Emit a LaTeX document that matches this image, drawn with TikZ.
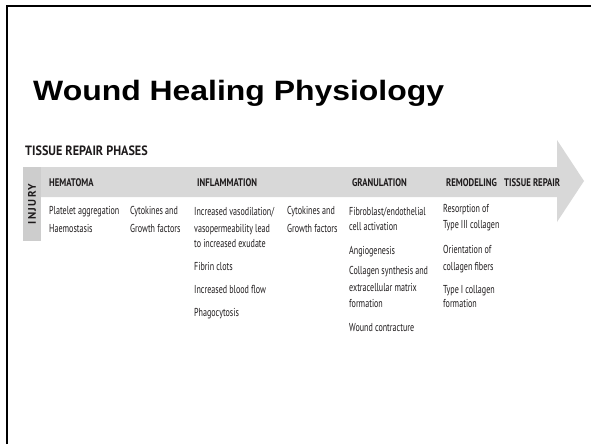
\documentclass[tikz,border=0pt]{standalone}
\usepackage{fontspec}
\setmainfont{Liberation Sans}
\newfontfamily\titlef[FakeStretch=1.14]{Liberation Sans}
\newfontfamily\bodyf[FakeStretch=0.70]{PT Sans}
\newfontfamily\headf[FakeStretch=0.79]{PT Sans}
\newfontfamily\phasef[FakeStretch=0.9]{PT Sans}
\newfontfamily\injf[LetterSpace=12]{PT Sans}
\definecolor{bandgray}{RGB}{216,216,216}
\definecolor{injgray}{RGB}{205,205,205}
\definecolor{ink}{RGB}{30,27,28}
\tikzset{
  bodytxt/.style={anchor=base west, inner sep=0pt, text=ink, font=\bodyf\fontsize{11.5}{13}\selectfont},
  headtxt/.style={anchor=base west, inner sep=0pt, text=ink, font=\headf\bfseries\fontsize{11}{12}\selectfont},
}
\begin{document}
\begin{tikzpicture}[x=1pt,y=-1pt]
\useasboundingbox (0,0) rectangle (591,444);
% frame
\draw[line width=2pt] (7,444) -- (7,6) -- (591,6);
% title
\node[anchor=base west, inner sep=0pt, font=\titlef\bfseries\fontsize{28}{30}\selectfont] (title) at (33,100) {Wound Healing Physiology};
\node[anchor=base west, inner sep=0pt, text=ink, font=\phasef\bfseries\fontsize{13.5}{15}\selectfont] (phases) at (25,155.5) {TISSUE REPAIR PHASES};
% arrow band
\fill[bandgray] (23,167) -- (557,167) -- (557,140) -- (584,181) -- (557,222) -- (557,197) -- (23,197) -- cycle;
\fill[injgray] (23,167) rectangle (41,241);
\node[rotate=90, inner sep=0pt, text=ink, font=\injf\bfseries\fontsize{11}{12}\selectfont] (injury) at (32,204) {INJURY};
% headers
\node[headtxt] (hem) at (49,186) {HEMATOMA};
\node[headtxt] (infl) at (197,186) {INFLAMMATION};
\node[headtxt] (gran) at (352,186) {GRANULATION};
\node[headtxt] (remo) at (446,186) {REMODELING};
\node[headtxt] (tis) at (504,186) {TISSUE REPAIR};
% column 1
\node[bodytxt] (c1a) at (49,214) {Platelet aggregation};
\node[bodytxt] (c1b) at (49,232) {Haemostasis};
% column 2
\node[bodytxt] (c2a) at (130,214) {Cytokines and};
\node[bodytxt] (c2b) at (130,232) {Growth factors};
% column 3
\node[bodytxt] (c3a) at (194,215) {Increased vasodilation/};
\node[bodytxt] (c3b) at (194,232) {vasopermeability lead};
\node[bodytxt] (c3c) at (194,247) {to increased exudate};
\node[bodytxt] (c3d) at (194,270) {Fibrin clots};
\node[bodytxt] (c3e) at (194,293) {Increased blood flow};
\node[bodytxt] (c3f) at (194,316) {Phagocytosis};
% column 4
\node[bodytxt] (c4a) at (287,214) {Cytokines and};
\node[bodytxt] (c4b) at (287,232) {Growth factors};
% column 5
\node[bodytxt] (c5a) at (349,215) {Fibroblast/endothelial};
\node[bodytxt] (c5b) at (349,230) {cell activation};
\node[bodytxt] (c5c) at (349,254) {Angiogenesis};
\node[bodytxt] (c5d) at (349,274) {Collagen synthesis and};
\node[bodytxt] (c5e) at (349,291) {extracellular matrix};
\node[bodytxt] (c5f) at (349,307) {formation};
\node[bodytxt] (c5g) at (349,331) {Wound contracture};
% column 6
\node[bodytxt] (c6a) at (443,212) {Resorption of};
\node[bodytxt] (c6b) at (443,228) {Type III collagen};
\node[bodytxt] (c6c) at (443,253) {Orientation of};
\node[bodytxt] (c6d) at (443,270) {collagen fibers};
\node[bodytxt] (c6e) at (443,293) {Type I collagen};
\node[bodytxt] (c6f) at (443,307) {formation};
\end{tikzpicture}
\end{document}
